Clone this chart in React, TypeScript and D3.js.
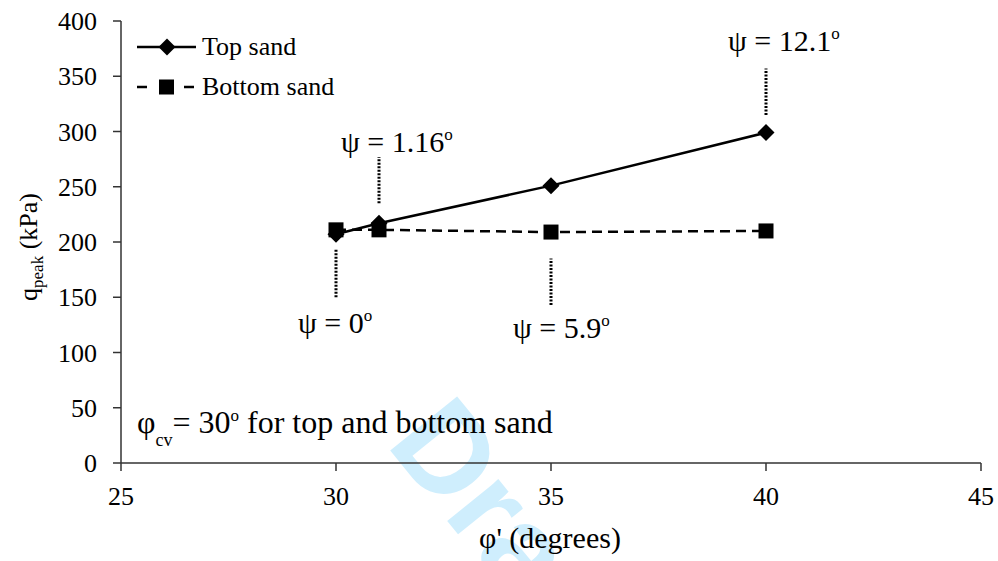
import React from "react";
import * as d3 from "d3";

// Friction angle φ' (degrees) for each test
const phiValues = [30, 31, 35, 40];
// Peak bearing pressure (kPa)
const topSand = [207, 217, 251, 299];
const bottomSand = [211, 211, 209, 210];
// Dilation angle annotations, one per test
const psiLabels = ["0", "1.16", "5.9", "12.1"];
// Leader line extent (kPa) and label baseline level (kPa)
const leaderLow = [150, 235, 143, 315];
const leaderHigh = [193, 277, 185, 357];
const labelAt = [118, 281, 113, 373];

const xTicks = [25, 30, 35, 40, 45];
const yTicks = [0, 50, 100, 150, 200, 250, 300, 350, 400];

const W = 998;
const H = 561;

export default function App() {
  const x = d3.scaleLinear().domain([25, 45]).range([121, 981]);
  const y = d3.scaleLinear().domain([0, 400]).range([463, 21]);

  const line = d3
    .line<number>()
    .x((_, i) => x(phiValues[i]))
    .y((d) => y(d));

  const diamond = (cx: number, cy: number, r: number) =>
    `M${cx},${cy - r}L${cx + r},${cy}L${cx},${cy + r}L${cx - r},${cy}Z`;

  const axisColor = "#333";
  const ts = { fontFamily: "Liberation Serif" };

  return (
    <svg
      width={W}
      height={H}
      style={{ position: "absolute", left: 0, top: 0, background: "#fff" }}
    >
      {/* watermark */}
      <text
        transform="translate(385,444) rotate(51)"
        style={{ fontFamily: "Liberation Sans" }}
        fontWeight="bold"
        fontSize={125}
        fill="#cfeefd"
      >
        Draft
      </text>

      {/* axes */}
      <line x1={x(25)} x2={x(45)} y1={y(0)} y2={y(0)} stroke={axisColor} strokeWidth={1.5} />
      <line x1={x(25)} x2={x(25)} y1={y(0)} y2={y(400)} stroke={axisColor} strokeWidth={1.5} />
      {xTicks.map((t) => (
        <g key={"xt" + t}>
          <line x1={x(t)} x2={x(t)} y1={y(0)} y2={y(0) + 8} stroke={axisColor} strokeWidth={1.5} />
          <text x={x(t)} y={505} textAnchor="middle" fontSize={26} fill="#000" style={ts}>
            {t}
          </text>
        </g>
      ))}
      {yTicks.map((t) => (
        <g key={"yt" + t}>
          <line x1={x(25) - 8} x2={x(25)} y1={y(t)} y2={y(t)} stroke={axisColor} strokeWidth={1.5} />
          <text x={97} y={y(t) + 9} textAnchor="end" fontSize={26} fill="#000" style={ts}>
            {t}
          </text>
        </g>
      ))}

      {/* axis titles */}
      <text x={550} y={548} textAnchor="middle" fontSize={30} fill="#000" style={ts}>
        φ' (degrees)
      </text>
      <text transform="translate(37,247) rotate(-90)" textAnchor="middle" fontSize={26} fill="#000" style={ts}>
        q<tspan fontSize={17} dy={6}>peak</tspan>
        <tspan dy={-6}> (kPa)</tspan>
      </text>

      {/* leader lines and ψ labels */}
      {phiValues.map((p, i) => {
        const lx = x(p);
        return (
          <g key={"psi" + i}>
            <line
              x1={lx}
              x2={lx}
              y1={y(leaderLow[i])}
              y2={y(leaderHigh[i])}
              stroke="#000"
              strokeWidth={3}
              strokeDasharray="2,1.5"
            />
            <text x={lx - 38} y={y(labelAt[i])} fontSize={30} fill="#000" style={ts}>
              ψ = {psiLabels[i]}
              <tspan fontSize={17} dy={-12}>o</tspan>
            </text>
          </g>
        );
      })}

      {/* series */}
      <path d={line(bottomSand) || ""} fill="none" stroke="#000" strokeWidth={2.5} strokeDasharray="10,6" />
      <path d={line(topSand) || ""} fill="none" stroke="#000" strokeWidth={2.5} />
      {bottomSand.map((v, i) => (
        <rect key={"b" + i} x={x(phiValues[i]) - 7.5} y={y(v) - 7.5} width={15} height={15} fill="#000" />
      ))}
      {topSand.map((v, i) => (
        <path key={"t" + i} d={diamond(x(phiValues[i]), y(v), 8.5)} fill="#000" />
      ))}

      {/* legend */}
      <line x1={137} x2={196} y1={47} y2={47} stroke="#000" strokeWidth={2.5} />
      <path d={diamond(167, 47, 8.5)} fill="#000" />
      <text x={202} y={55} fontSize={26} fill="#000" style={ts}>Top sand</text>
      <line x1={137} x2={196} y1={87} y2={87} stroke="#000" strokeWidth={2.5} strokeDasharray="10,13.5" />
      <rect x={159} y={79.5} width={15} height={15} fill="#000" />
      <text x={202} y={95} fontSize={26} fill="#000" style={ts}>Bottom sand</text>

      {/* note */}
      <text x={137} y={433} fontSize={32} fill="#000" style={ts}>
        φ<tspan fontSize={18} dy={13}>cv</tspan>
        <tspan dy={-13}>= 30</tspan>
        <tspan fontSize={17} dy={-12}>o</tspan>
        <tspan dy={12}> for top and bottom sand</tspan>
      </text>
    </svg>
  );
}
